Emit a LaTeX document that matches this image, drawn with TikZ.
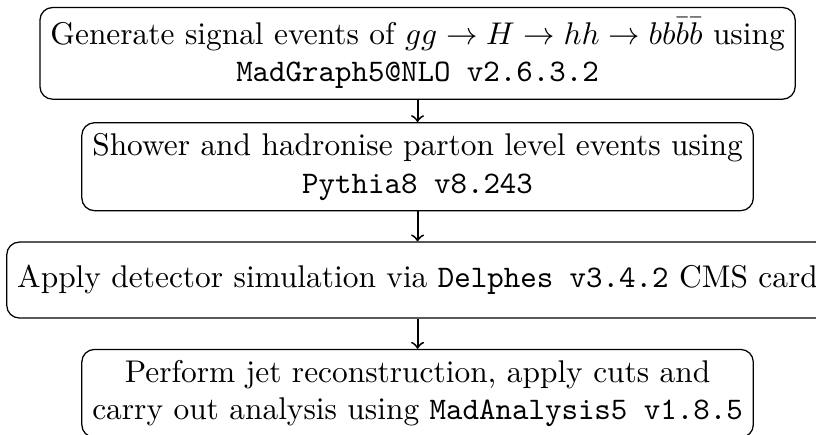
\documentclass[tikz,border=0pt]{standalone}
\usetikzlibrary{positioning}

\begin{document}
\begin{tikzpicture}[paso/.style={draw,rounded corners,align=center,minimum height=0.85cm}]

    %marco
    \useasboundingbox (-133pt,17pt) rectangle (126.9pt,-121.5pt);

    %pasos
    \node[paso] (p1) at (0,0) {Generate signal events of $gg\rightarrow H\rightarrow hh\rightarrow bb\bar{b}\bar{b}$ using\\ \texttt{MadGraph5@NLO v2.6.3.2}};
    \node[paso] (p2) at (0,-36.1pt) {Shower and hadronise parton level events using\\ \texttt{Pythia8 v8.243}};
    \node[paso] (p3) at (0,-72.2pt) {Apply detector simulation via \texttt{Delphes v3.4.2} CMS card};
    \node[paso] (p4) at (0,-108.3pt) {Perform jet reconstruction, apply cuts and\\ carry out analysis using \texttt{MadAnalysis5 v1.8.5}};

    %flechas
    \foreach \x [evaluate={\y=int(\x+1);}] in {1,2,3}{
        \draw[semithick,->] (p\x) -- (p\y);
    }

\end{tikzpicture}
\end{document}
